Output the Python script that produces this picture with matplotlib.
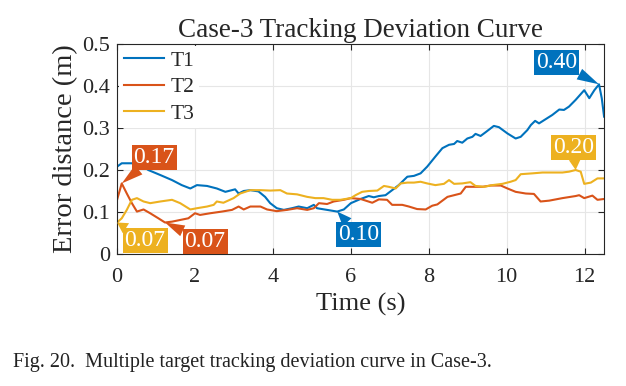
import matplotlib
matplotlib.use('Agg')
import matplotlib.pyplot as plt

plt.rcParams['font.family'] = ['Liberation Serif', 'DejaVu Serif']

# T1 (blue)
t1_x = [0, 0.12, 0.38, 0.68, 0.80, 1.11, 1.41, 1.66, 1.88, 2.05, 2.31, 2.56, 2.78, 3.03, 3.12,
        3.25, 3.42, 3.63, 3.80, 3.93, 4.10, 4.28, 4.49, 4.66, 4.88, 5.05, 5.13, 5.39, 5.65, 5.82,
        6.00, 6.25, 6.46, 6.59, 6.72, 6.89, 7.06, 7.23, 7.45, 7.62, 7.79, 7.96, 8.17, 8.35, 8.52,
        8.65, 8.73, 8.86, 8.99, 9.12, 9.20, 9.33, 9.46, 9.67, 9.80, 10.02, 10.23, 10.36, 10.53,
        10.62, 10.73, 10.83, 11.00, 11.17, 11.35, 11.47, 11.60, 11.77, 11.99, 12.12, 12.25,
        12.37, 12.44, 12.50]
t1_y = [0.208, 0.216, 0.216, 0.208, 0.200, 0.188, 0.176, 0.164, 0.156, 0.164, 0.162, 0.156,
        0.148, 0.154, 0.144, 0.150, 0.152, 0.149, 0.136, 0.121, 0.109, 0.105, 0.109, 0.113,
        0.109, 0.117, 0.109, 0.105, 0.101, 0.106, 0.121, 0.131, 0.138, 0.135, 0.138, 0.140,
        0.152, 0.164, 0.184, 0.186, 0.192, 0.208, 0.232, 0.252, 0.260, 0.262, 0.269, 0.265,
        0.275, 0.279, 0.286, 0.281, 0.290, 0.305, 0.302, 0.287, 0.275, 0.279, 0.295, 0.307,
        0.317, 0.311, 0.321, 0.331, 0.344, 0.343, 0.351, 0.367, 0.390, 0.371, 0.390, 0.404,
        0.371, 0.327]

# T2 (red)
t2_x = [0, 0.12, 0.25, 0.38, 0.51, 0.68, 0.85, 1.06, 1.23, 1.41, 1.62, 1.83, 2.00, 2.13, 2.39,
        2.69, 2.95, 3.12, 3.25, 3.42, 3.68, 3.85, 4.10, 4.36, 4.62, 4.88, 5.05, 5.18, 5.39, 5.56,
        5.82, 6.00, 6.25, 6.55, 6.72, 6.93, 7.06, 7.32, 7.49, 7.70, 7.92, 8.09, 8.22, 8.35, 8.48,
        8.65, 8.82, 8.95, 9.12, 9.38, 9.59, 9.85, 10.02, 10.23, 10.49, 10.70, 10.87, 11.09,
        11.43, 11.77, 11.86, 11.99, 12.20, 12.33, 12.50]
t2_y = [0.129, 0.168, 0.144, 0.121, 0.101, 0.106, 0.097, 0.085, 0.075, 0.077, 0.081, 0.085,
        0.097, 0.093, 0.097, 0.101, 0.105, 0.113, 0.106, 0.113, 0.113, 0.106, 0.102, 0.105,
        0.109, 0.105, 0.109, 0.121, 0.119, 0.125, 0.129, 0.133, 0.131, 0.122, 0.130, 0.129,
        0.117, 0.117, 0.113, 0.107, 0.106, 0.115, 0.118, 0.127, 0.136, 0.140, 0.144, 0.160,
        0.160, 0.160, 0.163, 0.163, 0.156, 0.148, 0.144, 0.143, 0.125, 0.127, 0.133, 0.138,
        0.140, 0.133, 0.139, 0.129, 0.131]

# T3 (yellow)
t3_x = [0, 0.12, 0.25, 0.38, 0.51, 0.68, 0.85, 1.11, 1.41, 1.62, 1.88, 2.05, 2.31, 2.48, 2.56,
        2.73, 2.99, 3.16, 3.42, 3.68, 3.93, 4.19, 4.36, 4.62, 4.88, 5.09, 5.30, 5.52, 5.73, 6.00,
        6.12, 6.29, 6.46, 6.68, 6.85, 6.97, 7.15, 7.28, 7.45, 7.62, 7.79, 7.96, 8.17, 8.39, 8.52,
        8.65, 8.86, 9.07, 9.20, 9.42, 9.63, 9.89, 10.10, 10.23, 10.36, 10.66, 10.92, 11.17,
        11.43, 11.60, 11.77, 11.90, 11.99, 12.16, 12.33, 12.50]
t3_y = [0.075, 0.085, 0.105, 0.129, 0.133, 0.125, 0.121, 0.125, 0.129, 0.121, 0.106, 0.109,
        0.113, 0.117, 0.125, 0.122, 0.133, 0.144, 0.152, 0.152, 0.151, 0.152, 0.144, 0.142,
        0.136, 0.133, 0.133, 0.129, 0.129, 0.133, 0.140, 0.148, 0.150, 0.151, 0.162, 0.160,
        0.156, 0.168, 0.170, 0.170, 0.172, 0.168, 0.164, 0.167, 0.176, 0.167, 0.168, 0.171,
        0.162, 0.160, 0.164, 0.167, 0.172, 0.176, 0.190, 0.192, 0.194, 0.194, 0.194, 0.196,
        0.200, 0.196, 0.167, 0.170, 0.180, 0.180]

blue = '#0072BD'
red = '#D95319'
yellow = '#EDB120'

# data tips: (text, point x, point y, box x, box y, colour)
tips = [
    ('0.17', 0.12, 0.168, 0.95, 0.230, red),
    ('0.07', 0.0, 0.075, 0.72, 0.032, yellow),
    ('0.07', 1.23, 0.075, 2.26, 0.030, red),
    ('0.10', 5.65, 0.101, 6.20, 0.046, blue),
    ('0.40', 12.37, 0.404, 11.29, 0.456, blue),
    ('0.20', 11.77, 0.200, 11.72, 0.254, yellow),
]

fig = plt.figure(figsize=(6.26, 3.86), dpi=100)
ax = fig.add_axes([0.187, 0.342, 0.778, 0.544])

ax.plot(t1_x, t1_y, color=blue, lw=1.5, label='T1')
ax.plot(t2_x, t2_y, color=red, lw=1.5, label='T2')
ax.plot(t3_x, t3_y, color=yellow, lw=1.5, label='T3')

for txt, px, py, bx, by, c in tips:
    ax.annotate(txt, xy=(px, py), xytext=(bx, by), ha='center', va='center',
                color='white', fontsize=17,
                bbox=dict(boxstyle='square,pad=0.08', fc=c, ec='none'),
                arrowprops=dict(arrowstyle='wedge,tail_width=0.5', fc=c, ec='none',
                                shrinkA=0, shrinkB=0))

ax.set_xlim(0, 12.5)
ax.set_ylim(0, 0.5)
ax.set_xticks([0, 2, 4, 6, 8, 10, 12])
ax.set_yticks([0, 0.1, 0.2, 0.3, 0.4, 0.5])
ax.set_yticklabels(['0', '0.1', '0.2', '0.3', '0.4', '0.5'])
ax.grid(True, color='#e6e6e6', lw=0.8)
ax.set_axisbelow(True)
ax.tick_params(direction='in', top=True, right=True, labelsize=16, colors='#262626',
               length=4)
ax.tick_params(axis='x', pad=10)
ax.tick_params(axis='y', pad=5)
for s in ax.spines.values():
    s.set_color('#262626')
    s.set_linewidth(0.8)

ax.set_xlabel('Time (s)', fontsize=19, color='#262626', labelpad=4)
ax.set_ylabel('Error distance (m)', fontsize=20.5, color='#262626', labelpad=3)
ax.set_title('Case-3 Tracking Deviation Curve', fontsize=19.5, color='#262626', pad=5)

leg = ax.legend(loc='upper left', fontsize=15.5, frameon=True, fancybox=False,
                edgecolor='none', framealpha=1, handlelength=1.9, handletextpad=0.3,
                labelspacing=0.3, borderaxespad=0.1, borderpad=0.2)
for t in leg.get_texts():
    t.set_color('#262626')

fig.text(0.02, 0.062, 'Fig. 20.  Multiple target tracking deviation curve in Case-3.',
         fontsize=14.5, color='#222222', va='center')

fig.savefig('out.png', dpi=100)
